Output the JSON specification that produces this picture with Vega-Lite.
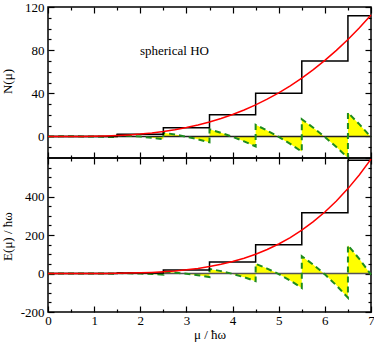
{
  "$schema": "https://vega.github.io/schema/vega-lite/v6.json",
  "padding": {"left": 0, "top": 0, "right": 4, "bottom": 0},
  "spacing": 0,
  "bounds": "flush",
  "config": {
    "view": {"stroke": "#000", "strokeWidth": 1.5},
    "axis": {"domain": false, "grid": false, "ticks": true, "zindex": 1, "labelFont": "Liberation Serif", "labelFontSize": 13, "labelColor": "#000", "titleFont": "Liberation Serif", "titleFontSize": 13, "titleFontWeight": "normal", "titleColor": "#000", "tickColor": "#000", "tickWidth": 1.2, "tickOpacity": 1, "labelFlush": false, "labelOverlap": false}
  },
  "datasets": {
    "smooth": [
      {"mu": 0, "n": 0, "e": 0}, {"mu": 0.25, "n": -0.057, "e": -0.007}, {"mu": 0.5, "n": -0.083, "e": -0.016}, {"mu": 0.75, "n": -0.047, "e": 0.009},
      {"mu": 1, "n": 0.083, "e": 0.125}, {"mu": 1.25, "n": 0.339, "e": 0.415}, {"mu": 1.5, "n": 0.75, "e": 0.984}, {"mu": 1.75, "n": 1.349, "e": 1.962},
      {"mu": 2, "n": 2.167, "e": 3.5}, {"mu": 2.25, "n": 3.234, "e": 5.774}, {"mu": 2.5, "n": 4.583, "e": 8.984}, {"mu": 2.75, "n": 6.245, "e": 13.353},
      {"mu": 3, "n": 8.25, "e": 19.125}, {"mu": 3.25, "n": 10.63, "e": 26.571}, {"mu": 3.5, "n": 13.417, "e": 35.984}, {"mu": 3.75, "n": 16.641, "e": 47.681},
      {"mu": 4, "n": 20.333, "e": 62}, {"mu": 4.25, "n": 24.526, "e": 79.306}, {"mu": 4.5, "n": 29.25, "e": 99.984}, {"mu": 4.75, "n": 34.536, "e": 124.446},
      {"mu": 5, "n": 40.417, "e": 153.125}, {"mu": 5.25, "n": 46.922, "e": 186.478}, {"mu": 5.5, "n": 54.083, "e": 224.984}, {"mu": 5.75, "n": 61.932, "e": 269.149},
      {"mu": 6, "n": 70.5, "e": 319.5}, {"mu": 6.25, "n": 79.818, "e": 376.587}, {"mu": 6.5, "n": 89.917, "e": 440.984}, {"mu": 6.75, "n": 100.828, "e": 513.29},
      {"mu": 7, "n": 112.583, "e": 594.125}
    ],
    "stair": [
      {"i": 0, "mu": 0, "n": 0, "e": 0}, {"i": 1, "mu": 1.5, "n": 0, "e": 0}, {"i": 2, "mu": 1.5, "n": 2, "e": 3}, {"i": 3, "mu": 2.5, "n": 2, "e": 3},
      {"i": 4, "mu": 2.5, "n": 8, "e": 18}, {"i": 5, "mu": 3.5, "n": 8, "e": 18}, {"i": 6, "mu": 3.5, "n": 20, "e": 60}, {"i": 7, "mu": 4.5, "n": 20, "e": 60},
      {"i": 8, "mu": 4.5, "n": 40, "e": 150}, {"i": 9, "mu": 5.5, "n": 40, "e": 150}, {"i": 10, "mu": 5.5, "n": 70, "e": 315}, {"i": 11, "mu": 6.5, "n": 70, "e": 315},
      {"i": 12, "mu": 6.5, "n": 112, "e": 588}, {"i": 13, "mu": 7, "n": 112, "e": 588}
    ],
    "osc": [
      {"i": 0, "mu": 0, "dn": 0, "de": 0}, {"i": 1, "mu": 0.25, "dn": 0.057, "de": 0.007}, {"i": 2, "mu": 0.5, "dn": 0.083, "de": 0.016}, {"i": 3, "mu": 0.75, "dn": 0.047, "de": -0.009},
      {"i": 4, "mu": 1, "dn": -0.083, "de": -0.125}, {"i": 5, "mu": 1.25, "dn": -0.339, "de": -0.415}, {"i": 6, "mu": 1.5, "dn": -0.75, "de": -0.984},
      {"i": 7, "mu": 1.5, "dn": 1.25, "de": 2.016}, {"i": 8, "mu": 1.75, "dn": 0.651, "de": 1.038}, {"i": 9, "mu": 2, "dn": -0.167, "de": -0.5}, {"i": 10, "mu": 2.25, "dn": -1.234, "de": -2.774}, {"i": 11, "mu": 2.5, "dn": -2.583, "de": -5.984},
      {"i": 12, "mu": 2.5, "dn": 3.417, "de": 9.016}, {"i": 13, "mu": 2.75, "dn": 1.755, "de": 4.647}, {"i": 14, "mu": 3, "dn": -0.25, "de": -1.125}, {"i": 15, "mu": 3.25, "dn": -2.63, "de": -8.571}, {"i": 16, "mu": 3.5, "dn": -5.417, "de": -17.984},
      {"i": 17, "mu": 3.5, "dn": 6.583, "de": 24.016}, {"i": 18, "mu": 3.75, "dn": 3.359, "de": 12.319}, {"i": 19, "mu": 4, "dn": -0.333, "de": -2}, {"i": 20, "mu": 4.25, "dn": -4.526, "de": -19.306}, {"i": 21, "mu": 4.5, "dn": -9.25, "de": -39.984},
      {"i": 22, "mu": 4.5, "dn": 10.75, "de": 50.016}, {"i": 23, "mu": 4.75, "dn": 5.464, "de": 25.554}, {"i": 24, "mu": 5, "dn": -0.417, "de": -3.125}, {"i": 25, "mu": 5.25, "dn": -6.922, "de": -36.478}, {"i": 26, "mu": 5.5, "dn": -14.083, "de": -74.984},
      {"i": 27, "mu": 5.5, "dn": 15.917, "de": 90.016}, {"i": 28, "mu": 5.75, "dn": 8.068, "de": 45.851}, {"i": 29, "mu": 6, "dn": -0.5, "de": -4.5}, {"i": 30, "mu": 6.25, "dn": -9.818, "de": -61.587}, {"i": 31, "mu": 6.5, "dn": -19.917, "de": -125.984},
      {"i": 32, "mu": 6.5, "dn": 22.083, "de": 147.016}, {"i": 33, "mu": 6.75, "dn": 11.172, "de": 74.71}, {"i": 34, "mu": 7, "dn": -0.583, "de": -6.125}
    ]
  },
  "vconcat": [
    {
      "width": 323,
      "height": 151,
      "resolve": {"axis": {"x": "independent", "y": "independent"}},
      "layer": [
        {
          "data": {"name": "osc"},
          "mark": {"type": "area", "fill": "#ffff00", "opacity": 1, "orient": "vertical"},
          "encoding": {
            "x": {"field": "mu", "type": "quantitative", "scale": {"domain": [0, 7], "nice": false},
              "axis": {"orient": "bottom", "values": [0, 1, 2, 3, 4, 5, 6, 7], "labels": false, "title": null, "offset": -6, "tickSize": 6}},
            "y": {"field": "dn", "type": "quantitative", "scale": {"domain": [-20, 120], "nice": false},
              "axis": {"orient": "left", "values": [0, 40, 80, 120], "labelExpr": "'' + datum.value", "offset": -6, "tickSize": 6, "labelPadding": 4,
                "title": "N(μ)", "titleX": -40, "titleY": 74}},
            "y2": {"datum": 0, "type": "quantitative"}
          }
        },
        {
          "data": {"values": [{}]},
          "mark": {"type": "rule", "color": "#222", "strokeWidth": 1.5},
          "encoding": {"y": {"datum": 0, "type": "quantitative", "scale": {"domain": [-20, 120], "nice": false}, "axis": null}}
        },
        {
          "data": {"name": "osc"},
          "mark": {"type": "line", "color": "#1e8c1e", "strokeWidth": 2, "strokeDash": [6, 4]},
          "encoding": {
            "x": {"field": "mu", "type": "quantitative", "scale": {"domain": [0, 7], "nice": false},
              "axis": {"orient": "bottom", "values": [0.5, 1.5, 2.5, 3.5, 4.5, 5.5, 6.5], "labels": false, "title": null, "offset": -3, "tickSize": 3}},
            "y": {"field": "dn", "type": "quantitative", "scale": {"domain": [-20, 120], "nice": false},
              "axis": {"orient": "left", "values": [-10, 10, 20, 30, 50, 60, 70, 90, 100, 110], "labels": false, "title": null, "offset": -3, "tickSize": 3}},
            "order": {"field": "i", "type": "quantitative"}
          }
        },
        {
          "data": {"name": "stair"},
          "mark": {"type": "line", "color": "#000", "strokeWidth": 1.5},
          "encoding": {
            "x": {"field": "mu", "type": "quantitative", "scale": {"domain": [0, 7], "nice": false},
              "axis": {"orient": "top", "values": [0, 1, 2, 3, 4, 5, 6, 7], "labels": false, "title": null, "offset": -6, "tickSize": 6}},
            "y": {"field": "n", "type": "quantitative", "scale": {"domain": [-20, 120], "nice": false},
              "axis": {"orient": "right", "values": [0, 40, 80, 120], "labels": false, "title": null, "offset": -6, "tickSize": 6}},
            "order": {"field": "i", "type": "quantitative"}
          }
        },
        {
          "data": {"name": "smooth"},
          "mark": {"type": "line", "color": "#ff0000", "strokeWidth": 1.5},
          "encoding": {
            "x": {"field": "mu", "type": "quantitative", "scale": {"domain": [0, 7], "nice": false},
              "axis": {"orient": "top", "values": [0.5, 1.5, 2.5, 3.5, 4.5, 5.5, 6.5], "labels": false, "title": null, "offset": -3, "tickSize": 3}},
            "y": {"field": "n", "type": "quantitative", "scale": {"domain": [-20, 120], "nice": false},
              "axis": {"orient": "right", "values": [-10, 10, 20, 30, 50, 60, 70, 90, 100, 110], "labels": false, "title": null, "offset": -3, "tickSize": 3}}
          }
        },
        {
          "data": {"values": [{}]},
          "mark": {"type": "text", "font": "Liberation Serif", "fontSize": 13, "color": "#000", "align": "center", "baseline": "middle"},
          "encoding": {
            "x": {"datum": 2.74, "type": "quantitative", "scale": {"domain": [0, 7], "nice": false}, "axis": null},
            "y": {"datum": 79, "type": "quantitative", "scale": {"domain": [-20, 120], "nice": false}, "axis": null},
            "text": {"value": "spherical HO"}
          }
        }
      ]
    },
    {
      "width": 323,
      "height": 154,
      "resolve": {"axis": {"x": "independent", "y": "independent"}},
      "layer": [
        {
          "data": {"name": "osc"},
          "mark": {"type": "area", "fill": "#ffff00", "opacity": 1, "orient": "vertical"},
          "encoding": {
            "x": {"field": "mu", "type": "quantitative", "scale": {"domain": [0, 7], "nice": false},
              "axis": {"orient": "bottom", "values": [0, 1, 2, 3, 4, 5, 6, 7], "labelExpr": "'' + datum.value", "offset": -6, "tickSize": 6, "labelPadding": 2,
                "title": "μ / ħω", "titlePadding": 1}},
            "y": {"field": "de", "type": "quantitative", "scale": {"domain": [-200, 600], "nice": false},
              "axis": {"orient": "left", "values": [-200, 0, 200, 400], "labelExpr": "'' + datum.value", "offset": -6, "tickSize": 6, "labelPadding": 4,
                "title": "E(μ) / ħω", "titleX": -40, "titleY": 78}},
            "y2": {"datum": 0, "type": "quantitative"}
          }
        },
        {
          "data": {"values": [{}]},
          "mark": {"type": "rule", "color": "#555", "strokeWidth": 1.5},
          "encoding": {"y": {"datum": 0, "type": "quantitative", "scale": {"domain": [-200, 600], "nice": false}, "axis": null}}
        },
        {
          "data": {"name": "osc"},
          "mark": {"type": "line", "color": "#1e8c1e", "strokeWidth": 2, "strokeDash": [6, 4]},
          "encoding": {
            "x": {"field": "mu", "type": "quantitative", "scale": {"domain": [0, 7], "nice": false},
              "axis": {"orient": "bottom", "values": [0.5, 1.5, 2.5, 3.5, 4.5, 5.5, 6.5], "labels": false, "title": null, "offset": -3, "tickSize": 3}},
            "y": {"field": "de", "type": "quantitative", "scale": {"domain": [-200, 600], "nice": false},
              "axis": {"orient": "left", "values": [-150, -100, -50, 50, 100, 150, 250, 300, 350, 450, 500, 550], "labels": false, "title": null, "offset": -3, "tickSize": 3}},
            "order": {"field": "i", "type": "quantitative"}
          }
        },
        {
          "data": {"name": "stair"},
          "mark": {"type": "line", "color": "#000", "strokeWidth": 1.5},
          "encoding": {
            "x": {"field": "mu", "type": "quantitative", "scale": {"domain": [0, 7], "nice": false},
              "axis": {"orient": "top", "values": [0, 1, 2, 3, 4, 5, 6, 7], "labels": false, "title": null, "offset": -6, "tickSize": 6}},
            "y": {"field": "e", "type": "quantitative", "scale": {"domain": [-200, 600], "nice": false},
              "axis": {"orient": "right", "values": [-200, 0, 200, 400, 600], "labels": false, "title": null, "offset": -6, "tickSize": 6}},
            "order": {"field": "i", "type": "quantitative"}
          }
        },
        {
          "data": {"name": "smooth"},
          "mark": {"type": "line", "color": "#ff0000", "strokeWidth": 1.5},
          "encoding": {
            "x": {"field": "mu", "type": "quantitative", "scale": {"domain": [0, 7], "nice": false},
              "axis": {"orient": "top", "values": [0.5, 1.5, 2.5, 3.5, 4.5, 5.5, 6.5], "labels": false, "title": null, "offset": -3, "tickSize": 3}},
            "y": {"field": "e", "type": "quantitative", "scale": {"domain": [-200, 600], "nice": false},
              "axis": {"orient": "right", "values": [-150, -100, -50, 50, 100, 150, 250, 300, 350, 450, 500, 550], "labels": false, "title": null, "offset": -3, "tickSize": 3}}
          }
        }
      ]
    }
  ]
}
